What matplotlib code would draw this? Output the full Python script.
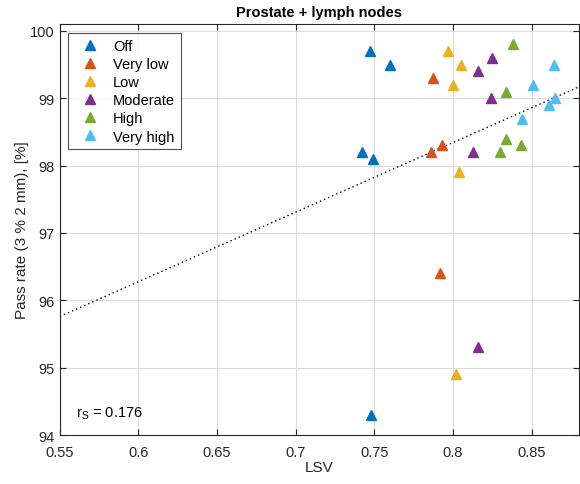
import numpy as np
import matplotlib
matplotlib.use("Agg")
import matplotlib.pyplot as plt

plt.rcParams['font.family'] = ['Liberation Sans', 'DejaVu Sans']

# plan levels and their colours (MATLAB default order)
groups = ["Off", "Very low", "Low", "Moderate", "High", "Very high"]
colors = ["#0072BD", "#D95319", "#EDB120", "#7E2F8E", "#77AC30", "#4DBEEE"]

# LSV and pass rate for each group
lsv_off = [0.747, 0.760, 0.742, 0.749, 0.748]
pr_off = [99.7, 99.5, 98.2, 98.1, 94.3]

lsv_vlow = [0.787, 0.793, 0.786, 0.792]
pr_vlow = [99.3, 98.3, 98.2, 96.4]

lsv_low = [0.797, 0.805, 0.800, 0.804, 0.802]
pr_low = [99.7, 99.5, 99.2, 97.9, 94.9]

lsv_mod = [0.825, 0.816, 0.824, 0.813, 0.816]
pr_mod = [99.6, 99.4, 99.0, 98.2, 95.3]

lsv_high = [0.838, 0.834, 0.834, 0.843, 0.830]
pr_high = [99.8, 99.1, 98.4, 98.3, 98.2]

lsv_vhigh = [0.864, 0.851, 0.865, 0.861, 0.844]
pr_vhigh = [99.5, 99.2, 99.0, 98.9, 98.7]

# trend line ends
fit_x = [0.55, 0.88]
fit_y = [95.76, 99.17]

r_s = 0.176

xs = [lsv_off, lsv_vlow, lsv_low, lsv_mod, lsv_high, lsv_vhigh]
ys = [pr_off, pr_vlow, pr_low, pr_mod, pr_high, pr_vhigh]

fig = plt.figure(figsize=(5.8, 4.85), dpi=100)
ax = fig.add_axes([0.103, 0.101, 0.895, 0.847])

ax.plot(fit_x, fit_y, linestyle=(0, (1, 2.2)), color="black", lw=1.0, zorder=2)

for g, c, x, y in zip(groups, colors, xs, ys):
    ax.plot(x, y, "^", color=c, ms=6.8, mec=c, label=g, linestyle="none", zorder=3)

ax.set_xlim(0.55, 0.88)
ax.set_ylim(94, 100.1)
ax.set_xticks([0.55, 0.6, 0.65, 0.7, 0.75, 0.8, 0.85])
ax.set_xticklabels(["0.55", "0.6", "0.65", "0.7", "0.75", "0.8", "0.85"])
ax.set_yticks([94, 95, 96, 97, 98, 99, 100])

ax.grid(True, color="#dcdcdc", lw=0.8)
ax.set_axisbelow(True)
ax.tick_params(direction="in", top=True, right=True, labelsize=10.5,
               color="#262626", labelcolor="#262626", length=4)
ax.tick_params(axis="x", pad=7)
for s in ax.spines.values():
    s.set_color("#262626")
    s.set_linewidth(0.8)

ax.set_title("Prostate + lymph nodes", fontsize=10.5, fontweight="bold", pad=6)
ax.set_xlabel("LSV", fontsize=11, color="#262626", labelpad=1)
ax.set_ylabel("Pass rate (3 % 2 mm), [%]", fontsize=11, color="#262626", labelpad=1)

ax.text(0.5605, 94.28, "r$_\\mathregular{S}$ = %.3f" % r_s, fontsize=10.5, color="black")

leg = ax.legend(loc="upper left", bbox_to_anchor=(0.0154, 0.978), fontsize=10.5,
                frameon=True, fancybox=False, edgecolor="#262626",
                handletextpad=0.5, handlelength=2.2, labelspacing=0.28,
                borderpad=0.4, borderaxespad=0.0)
leg.get_frame().set_linewidth(0.8)

fig.savefig("out.png", dpi=100)
